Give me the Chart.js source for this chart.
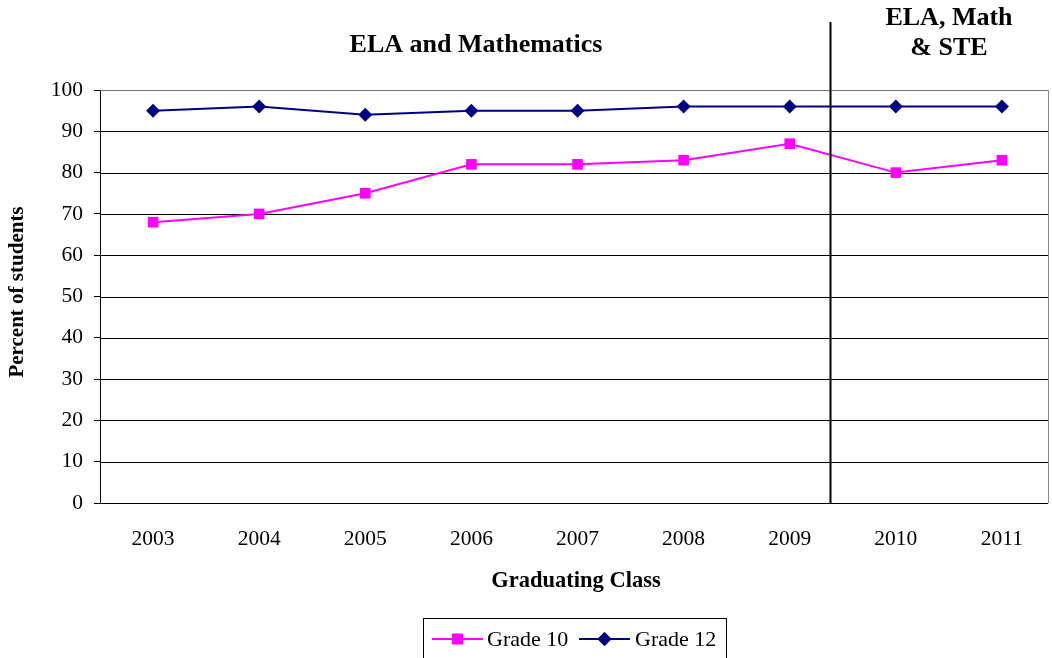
<!DOCTYPE html>
<html>
<head>
<meta charset="utf-8">
<script src="https://cdn.jsdelivr.net/npm/chart.js@4"></script>
<style>
html,body{margin:0;padding:0;background:#fff;overflow:hidden;}
#wrap{width:1052px;height:658px;position:relative;}
</style>
</head>
<body>
<div id="wrap"><canvas id="c" width="1052" height="658"></canvas></div>
<script>
const categories = ['2003','2004','2005','2006','2007','2008','2009','2010','2011'];
const grade10 = [68, 70, 75, 82, 82, 83, 87, 80, 83];
const grade12 = [95, 96, 94, 95, 95, 96, 96, 96, 96];
const yTicks = [0,10,20,30,40,50,60,70,80,90,100];
const seriesNames = ['Grade 10', 'Grade 12'];
const periodLabels = ['ELA and Mathematics', 'ELA, Math', '& STE'];
const dividerAt = 6.38; // between 2009 and 2010
const xTitle = 'Graduating Class';
const yTitle = 'Percent of students';

const FONT = '"Liberation Serif", "Times New Roman", serif';
const C10 = '#FF00FF', C12 = '#000080';
const GRID_RIGHT = 1048;
const X_LEFT = 100, X_RIGHT = 1055;

const stretchX = {
  id: 'stretchX',
  afterLayout(chart) {
    const xs = chart.scales.x;
    xs.left = X_LEFT; xs.right = X_RIGHT; xs.width = X_RIGHT - X_LEFT;
    xs.configure();
  }
};

const gridPlugin = {
  id: 'gridPlugin',
  beforeDatasetsDraw(chart) {
    const ctx = chart.ctx, ys = chart.scales.y;
    ctx.save();
    ctx.lineWidth = 1;
    yTicks.forEach(v => {
      if (v === 0) return;
      const y = Math.round(ys.getPixelForValue(v)) + 0.5;
      ctx.strokeStyle = v === 100 ? '#777' : '#000';
      ctx.beginPath(); ctx.moveTo(X_LEFT, y); ctx.lineTo(GRID_RIGHT, y); ctx.stroke();
    });
    ctx.strokeStyle = '#888';
    ctx.beginPath(); ctx.moveTo(GRID_RIGHT + 0.5, ys.getPixelForValue(100)); ctx.lineTo(GRID_RIGHT + 0.5, ys.getPixelForValue(0)); ctx.stroke();
    ctx.strokeStyle = '#000';
    const yb = Math.round(ys.getPixelForValue(0)) + 0.5;
    ctx.beginPath(); ctx.moveTo(X_LEFT, yb); ctx.lineTo(GRID_RIGHT, yb); ctx.stroke();
    ctx.restore();
  }
};

const overlay = {
  id: 'overlay',
  afterDraw(chart) {
    const ctx = chart.ctx;
    const xs = chart.scales.x, ys = chart.scales.y;
    ctx.save();
    // divider
    const dx = Math.round(xs.getPixelForValue(dividerAt)) + 0.5;
    ctx.strokeStyle = '#000'; ctx.lineWidth = 2;
    ctx.beginPath(); ctx.moveTo(dx, 22); ctx.lineTo(dx, ys.getPixelForValue(0) + 1); ctx.stroke();
    // period labels
    ctx.fillStyle = '#000';
    ctx.textAlign = 'center'; ctx.textBaseline = 'middle';
    ctx.font = 'bold 26px ' + FONT;
    ctx.fillText(periodLabels[0], 476, 45);
    ctx.fillText(periodLabels[1], 949, 18);
    ctx.fillText(periodLabels[2], 949, 48);
    // axis titles
    ctx.font = 'bold 22.5px ' + FONT;
    ctx.fillText(xTitle, 576, 581);
    ctx.save();
    ctx.font = 'bold 21px ' + FONT;
    ctx.translate(18, 292); ctx.rotate(-Math.PI/2);
    ctx.fillText(yTitle, 0, 0);
    ctx.restore();
    // legend
    ctx.strokeStyle = '#000'; ctx.lineWidth = 1;
    ctx.strokeRect(423.5, 618.5, 303, 50);
    ctx.font = '22px ' + FONT;
    ctx.textAlign = 'left';
    const ly = 639;
    const items = [
      {x: 432, color: C10, style: 'rect', r: 7.5, name: seriesNames[0], tx: 487},
      {x: 579, color: C12, style: 'rectRot', r: 7, name: seriesNames[1], tx: 635}
    ];
    items.forEach(it => {
      ctx.strokeStyle = it.color; ctx.lineWidth = 2;
      ctx.beginPath(); ctx.moveTo(it.x, ly); ctx.lineTo(it.x + 51, ly); ctx.stroke();
      ctx.fillStyle = it.color;
      Chart.helpers.drawPoint(ctx, {pointStyle: it.style, radius: it.r, borderWidth: 0, rotation: 0}, it.x + 25.5, ly);
      ctx.fill();
      ctx.fillStyle = '#000';
      ctx.fillText(it.name, it.tx, ly + 1);
    });
    ctx.restore();
  }
};

new Chart(document.getElementById('c'), {
  type: 'line',
  data: {
    labels: categories,
    datasets: [
      {label: seriesNames[0], data: grade10, borderColor: C10, backgroundColor: C10, borderWidth: 2,
       pointStyle: 'rect', pointRadius: 7.5, pointBorderWidth: 0, pointBackgroundColor: C10, tension: 0, clip: false},
      {label: seriesNames[1], data: grade12, borderColor: C12, backgroundColor: C12, borderWidth: 2,
       pointStyle: 'rectRot', pointRadius: 7, pointBorderWidth: 0, pointBackgroundColor: C12, tension: 0, clip: false}
    ]
  },
  options: {
    responsive: false,
    animation: false,
    layout: {padding: {top: 90, right: 0, bottom: 0, left: 0}},
    plugins: {legend: {display: false}, tooltip: {enabled: false}, title: {display: false}},
    scales: {
      x: {
        offset: true,
        grid: {display: false, drawTicks: false},
        border: {display: false},
        ticks: {color: '#000', font: {family: FONT, size: 21.5}, padding: 23, maxRotation: 0},
        afterFit(s) { s.height = 155; }
      },
      y: {
        min: 0, max: 100,
        afterBuildTicks(s) { s.ticks = yTicks.map(v => ({value: v})); },
        grid: {color: '#000', lineWidth: 1, tickLength: 6, drawOnChartArea: false},
        border: {display: true, color: '#000', width: 1},
        ticks: {color: '#000', font: {family: FONT, size: 21.5}, padding: 11},
        afterFit(s) { s.width = 100; }
      }
    }
  },
  plugins: [stretchX, gridPlugin, overlay]
});
</script>
</body>
</html>
